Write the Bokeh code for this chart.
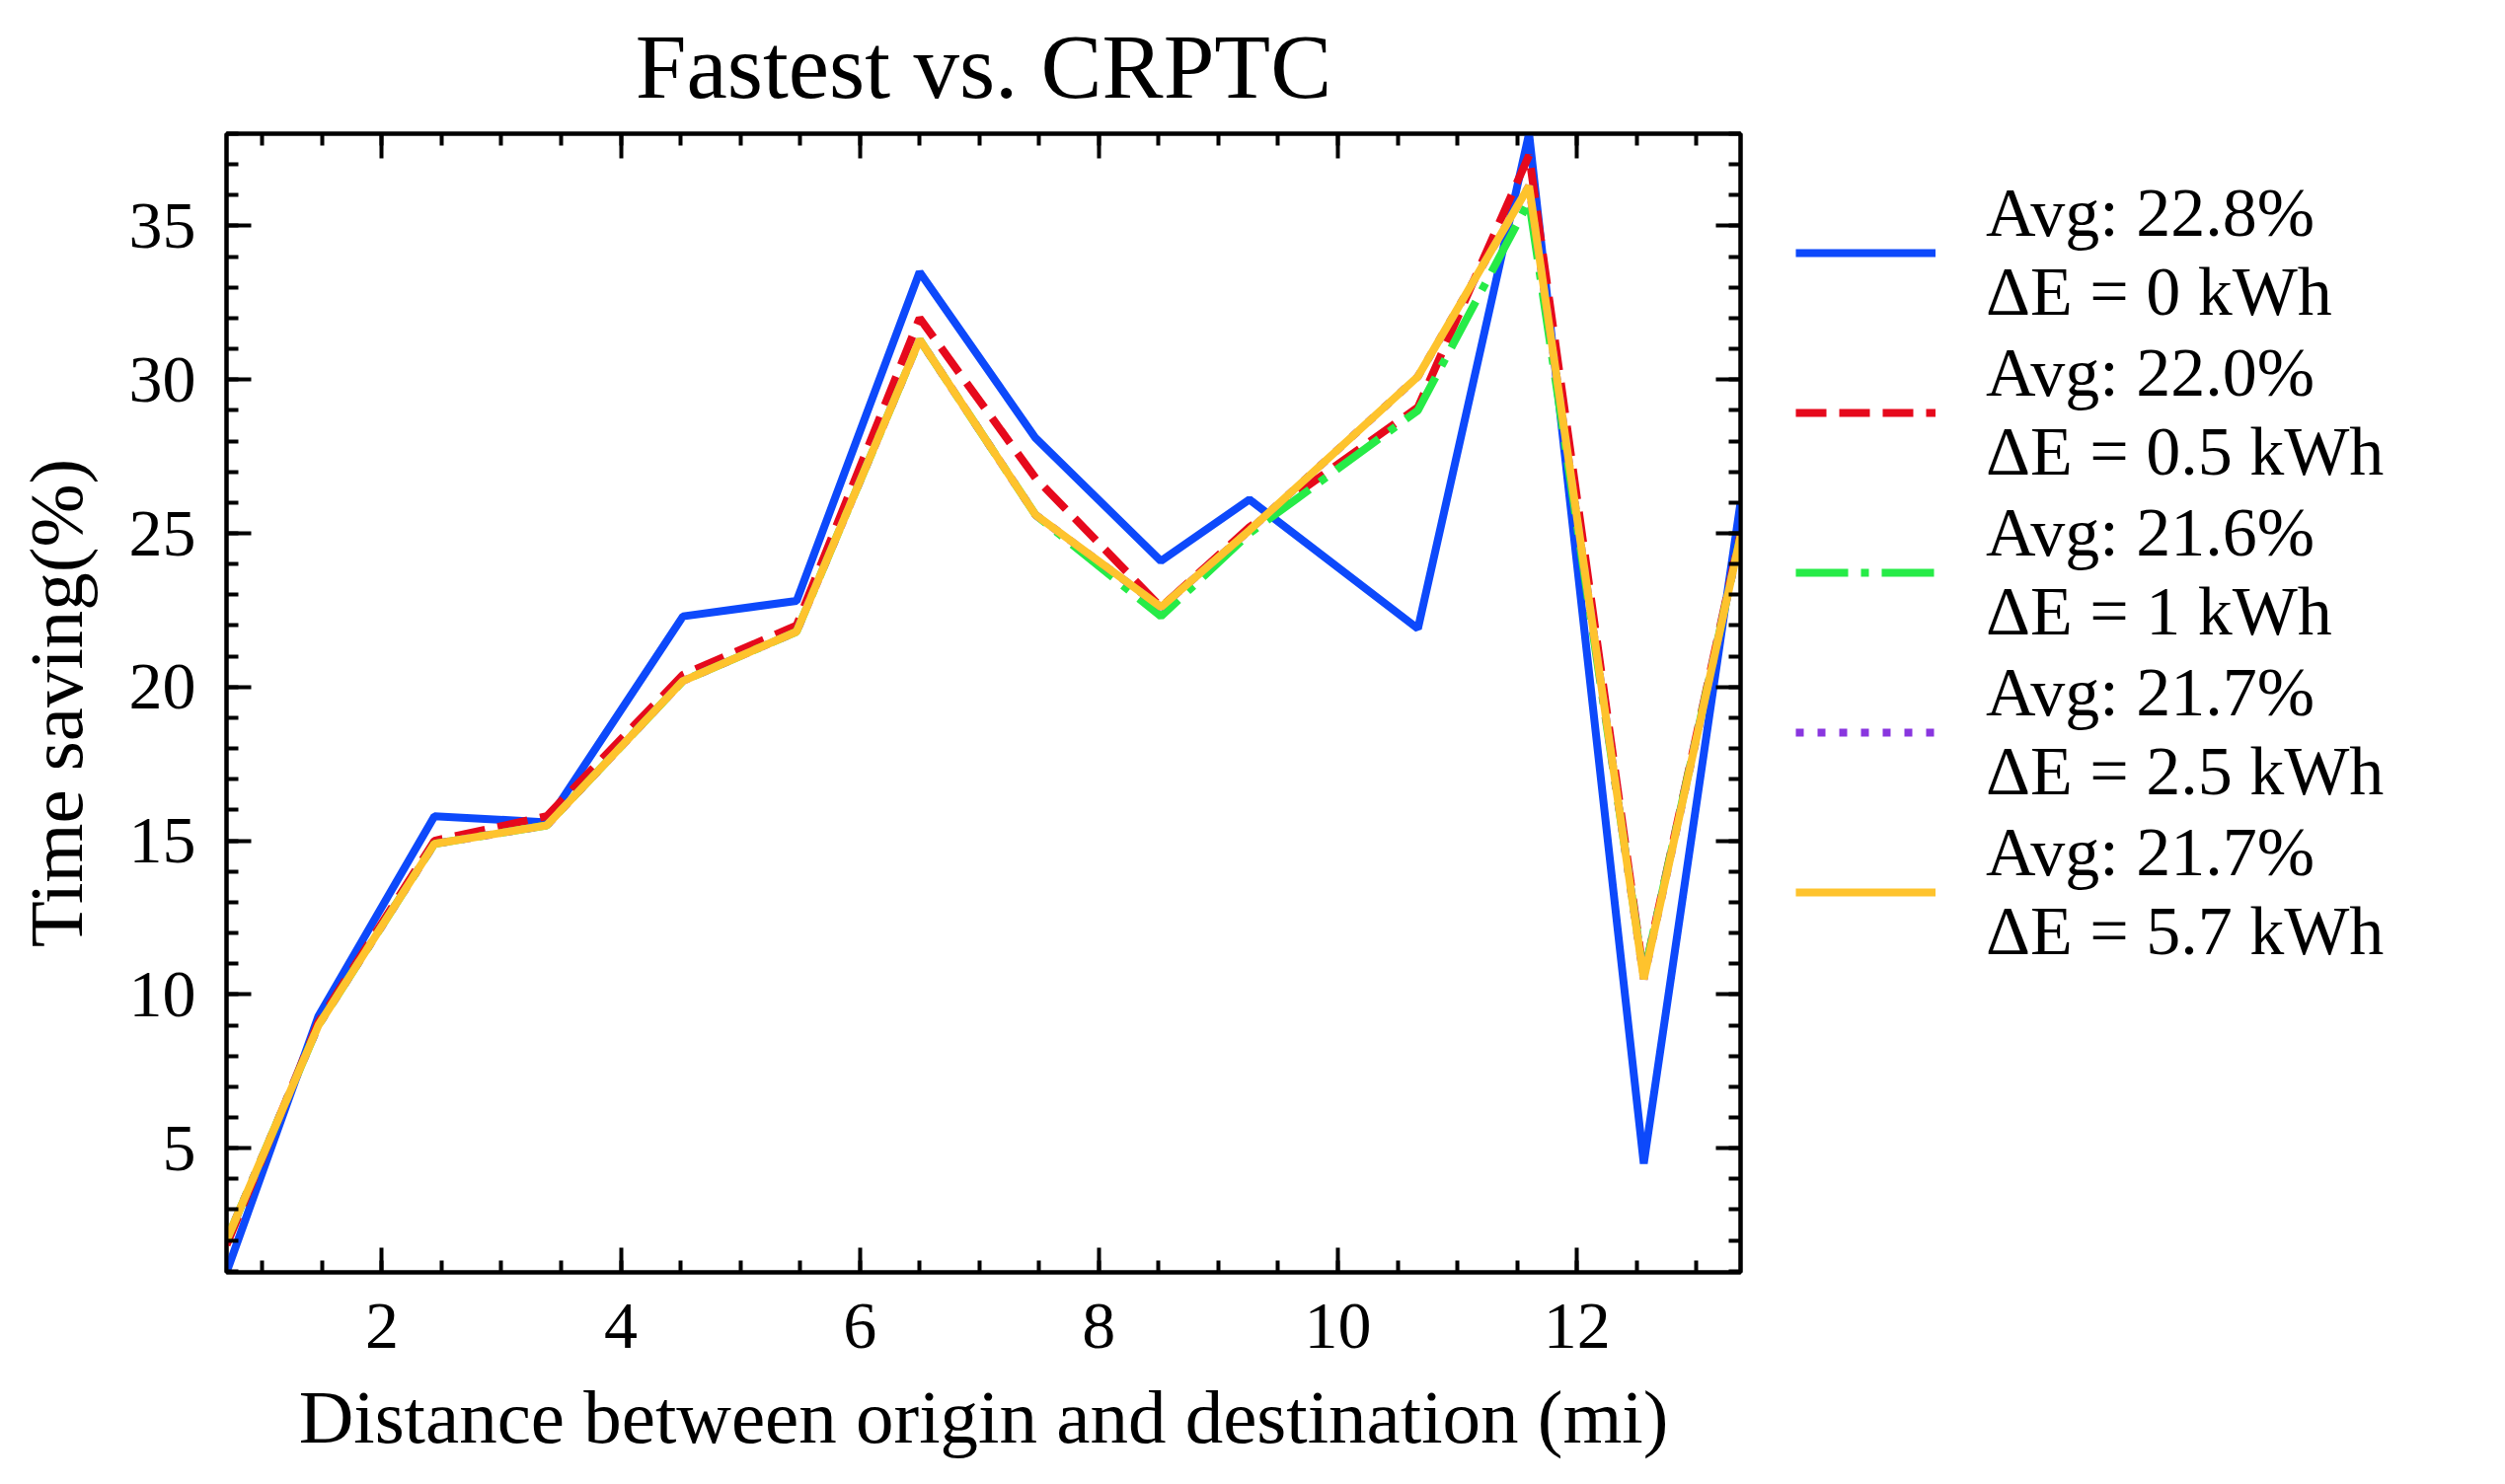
from bokeh.plotting import figure
from bokeh.models import (Range1d, LinearAxis, SingleIntervalTicker, Legend, LegendItem)
from bokeh.layouts import row
from bokeh.embed import file_html
from bokeh.resources import INLINE

# ---- data ----
distance = [0.70, 1.47, 2.44, 3.38, 4.52, 5.47, 6.50, 7.47, 8.52, 9.26, 10.67, 11.60, 12.56, 13.37]
saving_0 = [0.96, 9.3, 15.8, 15.6, 22.3, 22.8, 33.5, 28.1, 24.1, 26.1, 21.9, 38.0, 4.5, 26.0]
saving_05 = [1.85, 9.1, 15.0, 15.8, 20.4, 22.0, 32.0, 26.8, 22.6, 25.2, 29.1, 37.3, 10.6, 25.0]
saving_1 = [2.0, 9.0, 14.9, 15.5, 20.2, 21.8, 31.3, 25.6, 22.3, 25.0, 29.0, 35.8, 10.6, 24.9]
saving_25 = [2.0, 9.0, 14.9, 15.5, 20.2, 21.8, 31.3, 25.6, 22.6, 25.1, 30.1, 36.3, 10.5, 24.9]
saving_57 = [2.0, 9.0, 14.9, 15.5, 20.2, 21.8, 31.3, 25.6, 22.6, 25.1, 30.1, 36.3, 10.5, 24.9]
avg_saving = ["22.8", "22.0", "21.6", "21.7", "21.7"]
delta_e = ["0", "0.5", "1", "2.5", "5.7"]

series = [saving_0, saving_05, saving_1, saving_25, saving_57]
colors = ["#0d49fb", "#e6091c", "#26eb47", "#8936df", "#fec32d"]
dashes = ["solid", "31 13", "53 13 8 13", "8 14", "solid"]

FONT = "Liberation Serif"
TOTAL_W, TOTAL_H = 2522, 1488
LEFT, TOP, FW, FH, RIGHT = 229, 133, 1534, 1154, 40
BOTTOM = TOTAL_H - TOP - FH

p = figure(frame_width=FW, frame_height=FH,
           min_border_left=LEFT, min_border_right=RIGHT,
           min_border_top=TOP, min_border_bottom=BOTTOM,
           x_range=Range1d(min(distance), max(distance)),
           y_range=Range1d(min(saving_0), max(saving_0)),
           output_backend="svg", toolbar_location=None,
           title="Fastest vs. CRPTC")

p.title.text_font = FONT
p.title.text_font_size = "93px"
p.title.text_font_style = "normal"
p.title.text_color = "black"
p.title.align = "center"
p.title.vertical_align = "top"
p.title.standoff = 30

p.xgrid.visible = False
p.ygrid.visible = False
p.outline_line_color = "black"
p.outline_line_width = 4
p.background_fill_color = "white"
p.border_fill_color = "white"

xt = SingleIntervalTicker(interval=2, num_minor_ticks=4)
yt = SingleIntervalTicker(interval=5, num_minor_ticks=5)

bottom_ax = p.xaxis[0]
left_ax = p.yaxis[0]
bottom_ax.ticker = xt
left_ax.ticker = yt
bottom_ax.axis_label = "Distance between origin and destination (mi)"
left_ax.axis_label = "Time saving(%)"

top_ax = LinearAxis(ticker=xt)
right_ax = LinearAxis(ticker=yt)
p.add_layout(top_ax, "above")
p.add_layout(right_ax, "right")

for ax in [bottom_ax, left_ax, top_ax, right_ax]:
    ax.major_tick_in = 25
    ax.major_tick_out = 0
    ax.minor_tick_in = 12
    ax.minor_tick_out = 0
    ax.major_tick_line_width = 4
    ax.minor_tick_line_width = 4
    ax.axis_line_width = 4
    ax.major_tick_line_color = "black"
    ax.minor_tick_line_color = "black"
    ax.axis_line_color = "black"
    ax.major_label_text_font = FONT
    ax.major_label_text_font_size = "68px"
    ax.major_label_text_color = "black"
    ax.axis_label_text_font = FONT
    ax.axis_label_text_font_size = "77px"
    ax.axis_label_text_font_style = "normal"
    ax.axis_label_text_color = "black"

for ax in [top_ax, right_ax]:
    ax.major_label_text_font_size = "0px"
    ax.major_label_standoff = 0

bottom_ax.major_label_standoff = 32
bottom_ax.axis_label_standoff = 24
left_ax.major_label_standoff = 31
left_ax.axis_label_standoff = 28

for ys, c, d in zip(series, colors, dashes):
    p.line(distance, ys, line_color=c, line_width=8, line_dash=d)

# ---- legend panel to the right of the axes ----
# the same series are drawn here only to give the legend its swatches;
# this panel's x range lies outside the data, so no line is visible in it
p2 = figure(width=TOTAL_W - (LEFT + FW + RIGHT), height=TOTAL_H,
            x_range=Range1d(-2, -1), y_range=Range1d(0, 1),
            x_axis_location=None, y_axis_location=None,
            min_border=0, output_backend="svg", toolbar_location=None)
p2.outline_line_color = None
p2.xgrid.visible = False
p2.ygrid.visible = False
p2.background_fill_color = "white"
p2.border_fill_color = "white"

items = []
for ys, c, d, a, e in zip(series, colors, dashes, avg_saving, delta_e):
    r = p2.line(distance, ys, line_color=c, line_width=8, line_dash=d)
    items.append(LegendItem(label="Avg: %s%%\nΔE = %s kWh" % (a, e), renderers=[r]))

legend = Legend(items=items, location=(16, 303),
                glyph_width=142, glyph_height=60,
                label_standoff=51, spacing=2, padding=0, margin=0,
                border_line_color=None, background_fill_alpha=0,
                label_text_font=FONT, label_text_font_size="70px",
                label_text_color="black")
p2.add_layout(legend, "center")

open("out.html", "w").write(file_html(row(p, p2), INLINE))
